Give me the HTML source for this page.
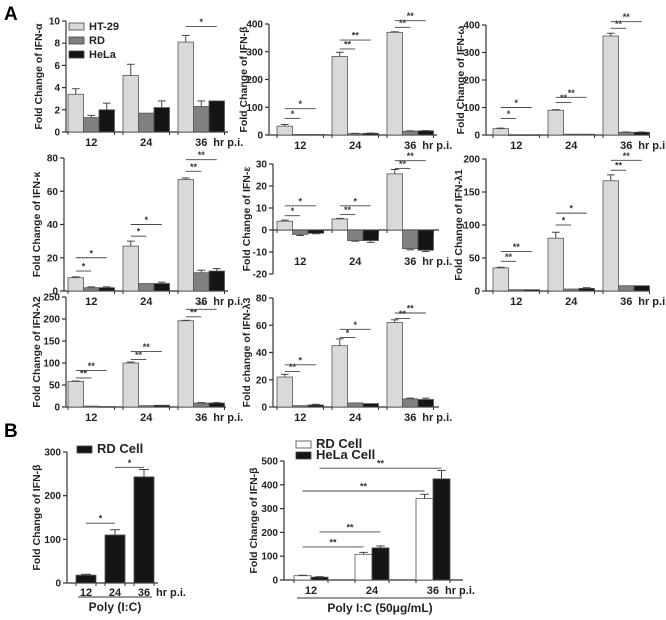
<!DOCTYPE html>
<html><head><meta charset="utf-8">
<style>
html,body{margin:0;padding:0;background:#fff;}
svg{display:block;font-family:"Liberation Sans",Arial,sans-serif;}
</style></head>
<body>
<svg id="fig" width="666" height="620" viewBox="0 0 666 620" xmlns="http://www.w3.org/2000/svg">
<text x="4" y="20" font-size="19" font-weight="bold">A</text>
<text x="4" y="437" font-size="19" font-weight="bold">B</text>
</svg>
<script>
// ---- data (means and errors: HT-29, RD, HeLa at 12/24/36 hr) ----
const timeLabels = ['12','24','36'];
const seriesNames = ['HT-29','RD','HeLa'];
const alphaHT=[3.4,5.1,8.1], alphaRD=[1.3,1.7,2.3], alphaHeLa=[2.0,2.2,2.8];
const alphaErrHT=[0.5,1.0,0.6], alphaErrRD=[0.2,0,0.5], alphaErrHeLa=[0.6,0.6,0];
const betaHT=[32,283,370], betaRD=[2,5,14], betaHeLa=[2,6,15];
const betaErrHT=[6,15,2], betaErrRD=[0,1,1], betaErrHeLa=[0,1,1];
const omegaHT=[23,90,360], omegaRD=[1,3,10], omegaHeLa=[1,3,10];
const omegaErrHT=[2,2,10], omegaErrRD=[0,0,1], omegaErrHeLa=[0,0,1];
const kappaHT=[8,27,67], kappaRD=[2,4.5,11], kappaHeLa=[2,4.5,12];
const kappaErrHT=[0.5,3,1], kappaErrRD=[0.5,0,1.5], kappaErrHeLa=[0.5,0.8,1.5];
const epsHT=[4,5,25.5], epsRD=[-2,-4.8,-8.5], epsHeLa=[-1.5,-4.8,-9.2];
const epsErrHT=[0.5,0.3,2], epsErrRD=[0.5,0.3,0.5], epsErrHeLa=[0.2,0.8,0.6];
const l1HT=[35,80,167], l1RD=[2,3,8], l1HeLa=[2,4,8];
const l1ErrHT=[1,9,9], l1ErrRD=[0,0,0], l1ErrHeLa=[0,1,0];
const l2HT=[58,100,196], l2RD=[2,3,9], l2HeLa=[1,4,9];
const l2ErrHT=[1,2,1], l2ErrRD=[0,0,1], l2ErrHeLa=[0,0,1];
const l3HT=[22,45,62], l3RD=[1,3,6], l3HeLa=[1.5,2.5,5.5];
const l3ErrHT=[2,5,2], l3ErrRD=[0,0,0.5], l3ErrHeLa=[0.5,0,1];
// B
const bLeftRD=[18,110,243], bLeftErr=[2,12,17];
const bRightRD=[18,108,342], bRightHeLa=[12,135,425];
const bRightErrRD=[2,8,18], bRightErrHeLa=[2,8,35];

const NS='http://www.w3.org/2000/svg';
const svg=document.getElementById('fig');
function mk(tag,attrs,parent){const e=document.createElementNS(NS,tag);for(const k in attrs)e.setAttribute(k,attrs[k]);(parent||svg).appendChild(e);return e;}
const fills=['#d9d9d9','#808080','#151515'];

function drawPanel(c){
  const g=mk('g',{});
  
  
  const ys=v=>c.yb-(v-c.ymin)/(c.ymax-c.ymin)*(c.yb-c.yt);
  const y0=ys(Math.max(c.ymin,0));
  const ya=mk('line',{x1:c.x0,y1:c.yt,x2:c.x0,y2:c.yb,stroke:'#333','stroke-width':1.2},g);
  
  
  c.ticks.forEach(t=>{
    mk('line',{x1:c.x0-4,y1:ys(t),x2:c.x0,y2:ys(t),stroke:'#333','stroke-width':1.2},g);
    const tl=mk('text',{x:c.x0-6,y:ys(t)+3.5,'font-size':10,'font-weight':'bold','text-anchor':'end',fill:'#222'},g);
    tl.textContent=t;
    
    
  });
  const xa=mk('line',{x1:c.x0,y1:y0,x2:c.x1,y2:y0,stroke:'#333','stroke-width':1.2},g);
  
  
  const bx=(gi,s)=>c.bx+gi*c.gs+s*c.bw;
  c.series.forEach((arr,s)=>{
    arr.forEach((v,gi)=>{
      const x=bx(gi,s),yv=ys(v);
      const r=mk('rect',{x:x,y:Math.min(yv,y0),width:c.bw,height:Math.max(Math.abs(y0-yv),0.8),fill:c.fills?c.fills[s]:fills[s],stroke:'#555','stroke-width':0.8},g);
      
      
      const e=c.errs[s][gi];
      if(e>0){
        const ye=v>=0?ys(v+e):ys(v-e);
        const cx=x+c.bw/2;
        mk('line',{x1:cx,y1:yv,x2:cx,y2:ye,stroke:'#444','stroke-width':1},g);
        mk('line',{x1:cx-c.bw*0.25,y1:ye,x2:cx+c.bw*0.25,y2:ye,stroke:'#444','stroke-width':1},g);
      }
    });
  });
  const ns=c.series.length;
  timeLabels.forEach((t,gi)=>{
    const gx=c.bx+gi*c.gs;
    mk('line',{x1:gx,y1:y0,x2:gx,y2:y0+3,stroke:'#333','stroke-width':1},g);
    mk('line',{x1:gx+ns*c.bw,y1:y0,x2:gx+ns*c.bw,y2:y0+3,stroke:'#333','stroke-width':1},g);
    const cx=gx+ns*c.bw/2;
    const tl=mk('text',{x:cx,y:c.xly,'font-size':11,'font-weight':'bold','text-anchor':'middle',fill:'#222'},g);
    tl.textContent=t;
    
    
    if(gi===2){
      const h=mk('text',{x:cx+12,y:c.xly,'font-size':11,'font-weight':'bold',fill:'#222'},g);
      h.textContent='hr p.i.';
      
      
    }
  });
  const tx=c.tx, ty=(c.yt+c.yb)/2;
  const tt=mk('text',{x:tx,y:ty,'font-size':10.5,'font-weight':'bold','text-anchor':'middle',fill:'#222',transform:`rotate(-90 ${tx} ${ty})`},g);
  tt.textContent=c.title;
  
  
  (c.sig||[]).forEach(sg=>{
    const [g1,s1,g2,s2,val,lab]=sg;
    const xa1=bx(g1,s1)+c.bw/2, xa2=bx(g2,s2)+c.bw/2, yy=ys(val);
    const l=mk('line',{x1:xa1,y1:yy,x2:xa2,y2:yy,stroke:'#444','stroke-width':0.9},g);
    
    
    const st=mk('text',{x:(xa1+xa2)/2,y:yy-1.5,'font-size':9,'font-weight':'bold','text-anchor':'middle',fill:'#333'},g);
    st.textContent=lab;
    
    
  });
  return g;
}
function sigs(list){return list.map(a=>[a[0],0,a[0],a[1],a[2],a[3]]);}

drawPanel({name:'chart-ifn-alpha',title:'Fold Change of IFN-α',x0:66,x1:228,bx:68,gs:55,bw:15.5,yt:21,yb:132,ymin:0,ymax:10,ticks:[0,2,4,6,8,10],xly:146,tx:42,
  series:[alphaHT,alphaRD,alphaHeLa],errs:[alphaErrHT,alphaErrRD,alphaErrHeLa],sig:sigs([[2,2,9.5,'*']])});
drawPanel({name:'chart-ifn-beta',title:'Fold Change of IFN-β',x0:269,x1:437,bx:277,gs:55,bw:15.5,yt:24,yb:135,ymin:0,ymax:400,ticks:[0,100,200,300,400],xly:149,tx:247,
  series:[betaHT,betaRD,betaHeLa],errs:[betaErrHT,betaErrRD,betaErrHeLa],
  sig:sigs([[0,1,60,'*'],[0,2,95,'*'],[1,1,310,'**'],[1,2,342,'**'],[2,1,388,'**'],[2,2,412,'**']])});
drawPanel({name:'chart-ifn-omega',title:'Fold Change of IFN-ω',x0:486,x1:649,bx:493,gs:55,bw:15.5,yt:25,yb:135,ymin:0,ymax:400,ticks:[0,100,200,300,400],xly:149,tx:464,
  series:[omegaHT,omegaRD,omegaHeLa],errs:[omegaErrHT,omegaErrRD,omegaErrHeLa],
  sig:sigs([[0,1,60,'*'],[0,2,100,'*'],[1,1,118,'**'],[1,2,137,'**'],[2,1,388,'**'],[2,2,412,'**']])});
drawPanel({name:'chart-ifn-kappa',title:'Fold Change of IFN-κ',x0:64,x1:228,bx:68,gs:55,bw:15.5,yt:158,yb:291,ymin:0,ymax:80,ticks:[0,20,40,60,80],xly:305,tx:40,
  series:[kappaHT,kappaRD,kappaHeLa],errs:[kappaErrHT,kappaErrRD,kappaErrHeLa],
  sig:sigs([[0,1,12,'*'],[0,2,20,'*'],[1,1,33,'*'],[1,2,40,'*'],[2,1,72,'**'],[2,2,79,'**']])});
drawPanel({name:'chart-ifn-epsilon',title:'Fold Change of IFN-ε',x0:273,x1:439,bx:277,gs:55,bw:15.5,yt:164,yb:274,ymin:-20,ymax:30,ticks:[-20,-10,0,10,20,30],xly:265,tx:250,
  series:[epsHT,epsRD,epsHeLa],errs:[epsErrHT,epsErrRD,epsErrHeLa],
  sig:sigs([[0,1,6.5,'*'],[0,2,11,'*'],[1,1,7,'**'],[1,2,11,'*'],[2,1,28,'**'],[2,2,31.5,'**']])});
drawPanel({name:'chart-ifn-lambda1',title:'Fold Change of IFN-λ1',x0:486,x1:650,bx:493,gs:55,bw:15.5,yt:159,yb:291,ymin:0,ymax:200,ticks:[0,50,100,150,200],xly:305,tx:462,
  series:[l1HT,l1RD,l1HeLa],errs:[l1ErrHT,l1ErrRD,l1ErrHeLa],
  sig:sigs([[0,1,45,'**'],[0,2,60,'**'],[1,1,100,'*'],[1,2,118,'*'],[2,1,183,'**'],[2,2,198,'**']])});
drawPanel({name:'chart-ifn-lambda2',title:'Fold Change of IFN-λ2',x0:66,x1:226,bx:68,gs:55,bw:15.5,yt:297,yb:407,ymin:0,ymax:250,ticks:[0,50,100,150,200,250],xly:421,tx:40,
  series:[l2HT,l2RD,l2HeLa],errs:[l2ErrHT,l2ErrRD,l2ErrHeLa],
  sig:sigs([[0,1,66,'**'],[0,2,83,'**'],[1,1,108,'**'],[1,2,126,'**'],[2,1,205,'**'],[2,2,222,'**']])});
drawPanel({name:'chart-ifn-lambda3',title:'Fold change of IFN-λ3',x0:273,x1:439,bx:277,gs:55,bw:15.5,yt:298,yb:407,ymin:0,ymax:80,ticks:[0,20,40,60,80],xly:421,tx:250,
  series:[l3HT,l3RD,l3HeLa],errs:[l3ErrHT,l3ErrRD,l3ErrHeLa],
  sig:sigs([[0,1,26,'**'],[0,2,31,'*'],[1,1,51,'*'],[1,2,57,'*'],[2,1,65,'**'],[2,2,69,'**']])});

drawPanel({name:'chart-b-rd-cell',title:'Fold Change of IFN-β',x0:67,x1:158,bx:76,gs:29,bw:20,yt:452,yb:583,ymin:0,ymax:300,ticks:[0,100,200,300],xly:596,tx:40,
  series:[bLeftRD],errs:[bLeftErr],fills:['#151515'],
  sig:[[0,0,1,0,137,'*'],[1,0,2,0,265,'*']]});
drawPanel({name:'chart-b-rd-hela',title:'Fold Change of IFN-β',x0:284,x1:463,bx:294,gs:61,bw:17,yt:461,yb:580,ymin:0,ymax:500,ticks:[0,100,200,300,400,500],xly:594,tx:257,
  series:[bRightRD,bRightHeLa],errs:[bRightErrRD,bRightErrHeLa],fills:['#ffffff','#151515'],
  sig:[[0,0,1,0,139,'**'],[0,1,1,1,202,'**'],[0,0,2,0,374,'**'],[0,1,2,1,470,'**']]});

function legendItem(x,y,fill,label,name,fs){
  const g=mk('g',{});
  
  
  mk('rect',{x:x,y:y,width:15,height:7,fill:fill,stroke:'#444','stroke-width':0.8},g);
  const t=mk('text',{x:x+20,y:y+7,'font-size':fs,'font-weight':'bold',fill:'#222'},g);
  t.textContent=label;
}
legendItem(69,23,fills[0],'HT-29','legend-entry-ht29',11);
legendItem(69,37,fills[1],'RD','legend-entry-rd',11);
legendItem(69,51,fills[2],'HeLa','legend-entry-hela',11);
legendItem(77,446,'#151515','RD Cell','legend-entry-rd-cell',13);
legendItem(296,441,'#ffffff','RD Cell','legend-entry-rd-cell-open',13);
legendItem(296,452,'#151515','HeLa Cell','legend-entry-hela-cell',13);

let ln=mk('line',{x1:78,y1:597,x2:152,y2:597,stroke:'#333','stroke-width':1});


let cap=mk('text',{x:115,y:611,'font-size':12,'font-weight':'bold','text-anchor':'middle',fill:'#222'});
cap.textContent='Poly (I:C)';


ln=mk('line',{x1:297,y1:598,x2:462,y2:598,stroke:'#333','stroke-width':1});


cap=mk('text',{x:380,y:612,'font-size':12,'font-weight':'bold','text-anchor':'middle',fill:'#222'});
cap.textContent='Poly I:C (50μg/mL)';


</script>
</body></html>
